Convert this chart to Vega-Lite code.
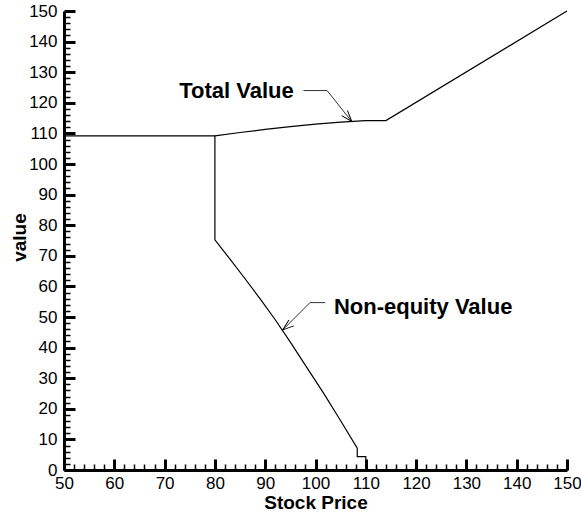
{
  "$schema": "https://vega.github.io/schema/vega-lite/v6.json",
  "width": 503,
  "height": 459,
  "autosize": "none",
  "padding": {"left": 64, "top": 11, "right": 14, "bottom": 44},
  "background": "white",
  "config": {"view": {"stroke": null}, "font": "Liberation Sans"},
  "datasets": {
    "curves": [
      {"series": "Total", "x": 50, "y": 109.2},
      {"series": "Total", "x": 80, "y": 109.2},
      {"series": "Total", "x": 85, "y": 110.3},
      {"series": "Total", "x": 90, "y": 111.3},
      {"series": "Total", "x": 95, "y": 112.2},
      {"series": "Total", "x": 100, "y": 113.0},
      {"series": "Total", "x": 105, "y": 113.7},
      {"series": "Total", "x": 110, "y": 114.2},
      {"series": "Total", "x": 114, "y": 114.2},
      {"series": "Total", "x": 150, "y": 150},
      {"series": "Non-equity", "x": 80, "y": 109.2},
      {"series": "Non-equity", "x": 80, "y": 75.2},
      {"series": "Non-equity", "x": 83, "y": 68.9},
      {"series": "Non-equity", "x": 86, "y": 62.5},
      {"series": "Non-equity", "x": 89, "y": 55.9},
      {"series": "Non-equity", "x": 92, "y": 49.1},
      {"series": "Non-equity", "x": 95, "y": 41.8},
      {"series": "Non-equity", "x": 98, "y": 34.2},
      {"series": "Non-equity", "x": 101.6, "y": 25.1},
      {"series": "Non-equity", "x": 105, "y": 16.1},
      {"series": "Non-equity", "x": 108.3, "y": 7.1},
      {"series": "Non-equity", "x": 108.3, "y": 4.4},
      {"series": "Non-equity", "x": 110, "y": 4.4},
      {"series": "Non-equity", "x": 110, "y": 0}
    ],
    "leaders": [
      {"label": "Total Value", "x": 97.6, "y": 124.0},
      {"label": "Total Value", "x": 102.3, "y": 124.0},
      {"label": "Total Value", "x": 107.2, "y": 113.9},
      {"label": "Non-equity Value", "x": 101.9, "y": 54.7},
      {"label": "Non-equity Value", "x": 98.9, "y": 54.7},
      {"label": "Non-equity Value", "x": 93.5, "y": 45.8}
    ],
    "tips": [
      {"label": "Total Value", "x": 107.2, "y": 113.9},
      {"label": "Non-equity Value", "x": 93.5, "y": 45.8}
    ],
    "labels": [
      {"label": "Total Value", "x": 84.3, "y": 121.5},
      {"label": "Non-equity Value", "x": 121.4, "y": 51.0}
    ]
  },
  "encoding": {
    "x": {
      "field": "x",
      "type": "quantitative",
      "scale": {"domain": [50, 150], "nice": false, "zero": false},
      "axis": {
        "title": "Stock Price",
        "grid": false,
        "values": [50,52,54,56,58,60,62,64,66,68,70,72,74,76,78,80,82,84,86,88,90,92,94,96,98,100,102,104,106,108,110,112,114,116,118,120,122,124,126,128,130,132,134,136,138,140,142,144,146,148,150],
        "labelExpr": "datum.value % 10 === 0 ? datum.label : ''",
        "labelOverlap": false,
        "labelFlush": false,
        "labelBound": false,
        "tickSize": {"condition": {"test": "datum.value % 10 === 0", "value": -11}, "value": -6},
        "tickWidth": {"condition": {"test": "datum.value % 10 === 0", "value": 3}, "value": 1.5},
        "tickColor": "black",
        "domainColor": "black",
        "domainWidth": 3,
        "labelFont": "Liberation Sans",
        "labelFontSize": 17,
        "labelColor": "black",
        "labelPadding": 16,
        "titleFont": "Liberation Sans",
        "titleFontSize": 19,
        "titleFontWeight": "bold",
        "titleColor": "black",
        "titleBaseline": "alphabetic",
        "titleY": 38
      }
    },
    "y": {
      "field": "y",
      "type": "quantitative",
      "scale": {"domain": [0, 150], "nice": false, "zero": false},
      "axis": {
        "title": "value",
        "grid": false,
        "values": [0,2,4,6,8,10,12,14,16,18,20,22,24,26,28,30,32,34,36,38,40,42,44,46,48,50,52,54,56,58,60,62,64,66,68,70,72,74,76,78,80,82,84,86,88,90,92,94,96,98,100,102,104,106,108,110,112,114,116,118,120,122,124,126,128,130,132,134,136,138,140,142,144,146,148,150],
        "labelExpr": "datum.value % 10 === 0 ? datum.label : ''",
        "labelOverlap": false,
        "labelFlush": false,
        "labelBound": false,
        "tickSize": {"condition": {"test": "datum.value % 10 === 0", "value": -11}, "value": -6},
        "tickWidth": {"condition": {"test": "datum.value % 10 === 0", "value": 3}, "value": 1.5},
        "tickColor": "black",
        "domainColor": "black",
        "domainWidth": 3,
        "labelFont": "Liberation Sans",
        "labelFontSize": 17,
        "labelColor": "black",
        "labelPadding": 18,
        "titleFont": "Liberation Sans",
        "titleFontSize": 19,
        "titleFontWeight": "bold",
        "titleColor": "black",
        "titleAngle": -90,
        "titleAlign": "center",
        "titleBaseline": "alphabetic",
        "titleX": -39,
        "titleY": 226
      }
    }
  },
  "layer": [
    {
      "data": {"name": "curves"},
      "mark": {"type": "line", "color": "black", "strokeWidth": 1.2},
      "encoding": {"detail": {"field": "series"}, "order": {"value": null}}
    },
    {
      "data": {"name": "leaders"},
      "mark": {"type": "line", "color": "#333333", "strokeWidth": 1},
      "encoding": {"detail": {"field": "label"}, "order": {"value": null}}
    },
    {
      "data": {"name": "tips"},
      "mark": {"type": "point", "shape": "M-1,-0.35L0,0L-1,0.35", "filled": false, "stroke": "black", "strokeWidth": 1, "size": 484, "opacity": 1},
      "encoding": {
        "angle": {"condition": {"test": "datum.label === 'Total Value'", "value": 49.5}, "value": 140.8}
      }
    },
    {
      "data": {"name": "labels"},
      "mark": {"type": "text", "font": "Liberation Sans", "fontSize": 22, "fontWeight": "bold", "align": "center", "baseline": "alphabetic", "color": "black"},
      "encoding": {"text": {"field": "label"}}
    }
  ]
}
